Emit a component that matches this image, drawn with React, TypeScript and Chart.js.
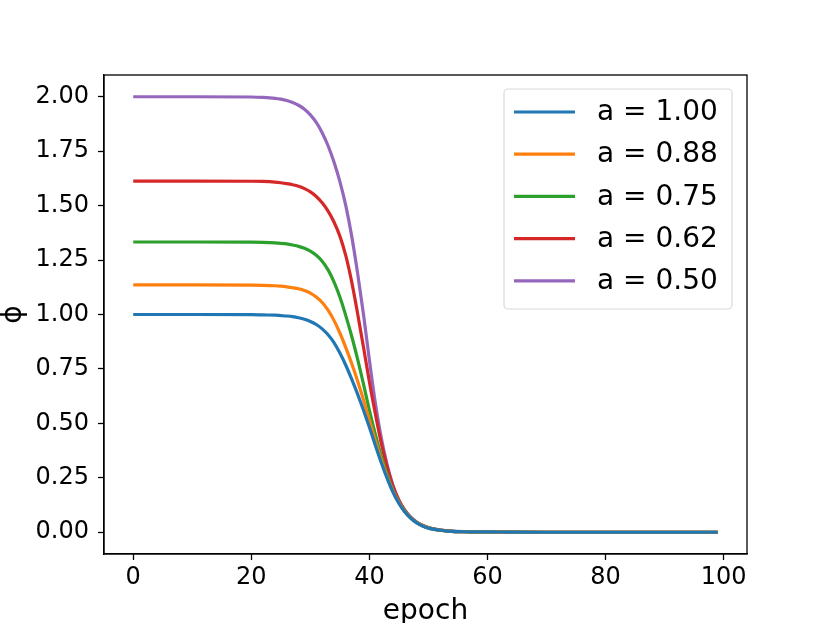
import { useEffect, useRef } from "react";
import { Chart, registerables } from "chart.js";

Chart.register(...registerables);

const epochs = [0, 10, 20, 22, 24, 25, 26, 27, 28, 29, 30, 31, 32, 33, 34, 35, 36, 37, 38, 39, 40, 41, 42, 43, 44, 45, 46, 47, 48, 49, 50, 51, 52, 54, 57, 62, 70, 80, 90, 99];

const phiA100 = [1.0, 1.0, 0.999, 0.998, 0.997, 0.995, 0.993, 0.99, 0.985, 0.978, 0.968, 0.954, 0.934, 0.907, 0.871, 0.823, 0.767, 0.703, 0.634, 0.56, 0.482, 0.4, 0.32, 0.247, 0.183, 0.132, 0.093, 0.064, 0.043, 0.029, 0.019, 0.013, 0.009, 0.004, 0.002, 0.001, 0, 0, 0, 0];
const phiA088 = [1.136, 1.136, 1.135, 1.134, 1.132, 1.13, 1.127, 1.123, 1.118, 1.11, 1.098, 1.08, 1.055, 1.02, 0.973, 0.915, 0.848, 0.775, 0.695, 0.608, 0.515, 0.42, 0.333, 0.255, 0.188, 0.135, 0.094, 0.065, 0.044, 0.03, 0.02, 0.013, 0.009, 0.004, 0.002, 0.001, 0, 0, 0, 0];
const phiA075 = [1.333, 1.333, 1.332, 1.331, 1.329, 1.327, 1.324, 1.319, 1.313, 1.304, 1.291, 1.272, 1.245, 1.205, 1.15, 1.08, 0.995, 0.9, 0.795, 0.68, 0.56, 0.45, 0.35, 0.265, 0.192, 0.137, 0.096, 0.066, 0.045, 0.03, 0.02, 0.014, 0.009, 0.004, 0.002, 0.001, 0, 0, 0, 0];
const phiA062 = [1.613, 1.613, 1.612, 1.611, 1.608, 1.605, 1.601, 1.596, 1.589, 1.578, 1.563, 1.542, 1.513, 1.475, 1.425, 1.36, 1.27, 1.15, 1.005, 0.85, 0.69, 0.545, 0.41, 0.3, 0.21, 0.145, 0.1, 0.068, 0.046, 0.031, 0.021, 0.014, 0.01, 0.004, 0.002, 0.001, 0, 0, 0, 0];
const phiA050 = [2.0, 2.0, 1.999, 1.997, 1.993, 1.989, 1.983, 1.974, 1.961, 1.943, 1.917, 1.882, 1.835, 1.775, 1.7, 1.61, 1.5, 1.36, 1.19, 1.0, 0.79, 0.595, 0.435, 0.31, 0.215, 0.148, 0.101, 0.069, 0.047, 0.032, 0.022, 0.015, 0.01, 0.005, 0.002, 0.001, 0, 0, 0, 0];

const seriesLabels = ["a = 1.00", "a = 0.88", "a = 0.75", "a = 0.62", "a = 0.50"];
const seriesColors = ["#1f77b4", "#ff7f0e", "#2ca02c", "#d62728", "#9467bd"];
const seriesValues = [phiA100, phiA088, phiA075, phiA062, phiA050];

const xTicks = [0, 20, 40, 60, 80, 100];
const yTicks = [0, 0.25, 0.5, 0.75, 1.0, 1.25, 1.5, 1.75, 2.0];

const FONT = "'DejaVu Sans', sans-serif";

// top/right spines + legend box in the upper right
const framePlugin = {
  id: "frame",
  afterDraw(chart: Chart) {
    const { ctx, chartArea } = chart;
    ctx.save();
    ctx.strokeStyle = "#000";
    ctx.lineWidth = 1.3;
    ctx.strokeRect(chartArea.left, chartArea.top, chartArea.right - chartArea.left, chartArea.bottom - chartArea.top);

    const bx = 504, by = 89, bw = 228, bh = 220, r = 4;
    ctx.beginPath();
    ctx.roundRect(bx, by, bw, bh, r);
    ctx.fillStyle = "rgba(255,255,255,0.8)";
    ctx.fill();
    ctx.strokeStyle = "#d9d9d9";
    ctx.lineWidth = 1.2;
    ctx.stroke();

    ctx.font = `28px ${FONT}`;
    ctx.textBaseline = "middle";
    ctx.textAlign = "left";
    chart.data.datasets.forEach((ds, i) => {
      const y = 112 + i * 42.2;
      ctx.strokeStyle = ds.borderColor as string;
      ctx.lineWidth = 3.2;
      ctx.beginPath();
      ctx.moveTo(514, y);
      ctx.lineTo(575, y);
      ctx.stroke();
      ctx.fillStyle = "#000";
      ctx.fillText(ds.label as string, 597, y + 1);
    });
    ctx.restore();
  },
};

export default function App() {
  const canvasRef = useRef<HTMLCanvasElement>(null);
  const chartRef = useRef<Chart | null>(null);

  useEffect(() => {
    document.body.style.margin = "0";
    if (!canvasRef.current) return;
    if (chartRef.current) chartRef.current.destroy();

    chartRef.current = new Chart(canvasRef.current, {
      type: "line",
      data: {
        datasets: seriesValues.map((vals, i) => ({
          label: seriesLabels[i],
          data: epochs.map((e, j) => ({ x: e, y: vals[j] })),
          borderColor: seriesColors[i],
          backgroundColor: seriesColors[i],
          borderWidth: 3.2,
          pointRadius: 0,
          cubicInterpolationMode: "monotone" as const,
          fill: false,
        })),
      },
      options: {
        responsive: false,
        animation: false,
        layout: { padding: { left: 0, top: 75, right: 83, bottom: 0 } },
        plugins: {
          legend: { display: false },
          tooltip: { enabled: false },
        },
        scales: {
          x: {
            type: "linear",
            min: -4.95,
            max: 103.95,
            afterBuildTicks: (scale) => {
              scale.ticks = xTicks.map((v) => ({ value: v }));
            },
            afterFit: (scale) => {
              scale.height = 69;
            },
            grid: { drawOnChartArea: false, drawTicks: true, tickLength: 6, tickColor: "#000", tickWidth: 1.3 },
            border: { display: true, color: "#000", width: 1.3 },
            ticks: { color: "#000", font: { family: FONT, size: 24 }, padding: 3, maxRotation: 0 },
            title: { display: true, text: "epoch", color: "#000", font: { family: FONT, size: 28 }, padding: { top: 0, bottom: -6 } },
          },
          y: {
            type: "linear",
            min: -0.1,
            max: 2.1,
            afterBuildTicks: (scale) => {
              scale.ticks = yTicks.map((v) => ({ value: v }));
            },
            afterFit: (scale) => {
              scale.width = 104;
            },
            grid: { drawOnChartArea: false, drawTicks: true, tickLength: 6, tickColor: "#000", tickWidth: 1.3 },
            border: { display: true, color: "#000", width: 1.3 },
            ticks: {
              color: "#000",
              font: { family: FONT, size: 24 },
              padding: 9,
              callback: (v) => Number(v).toFixed(2),
            },
            title: { display: true, text: "ϕ", color: "#000", font: { family: FONT, size: 28 }, padding: { top: -3, bottom: 0 } },
          },
        },
      },
      plugins: [framePlugin],
    });

    return () => {
      chartRef.current?.destroy();
      chartRef.current = null;
    };
  }, []);

  return (
    <div style={{ width: 830, height: 623 }}>
      <canvas ref={canvasRef} width={830} height={623} />
    </div>
  );
}
